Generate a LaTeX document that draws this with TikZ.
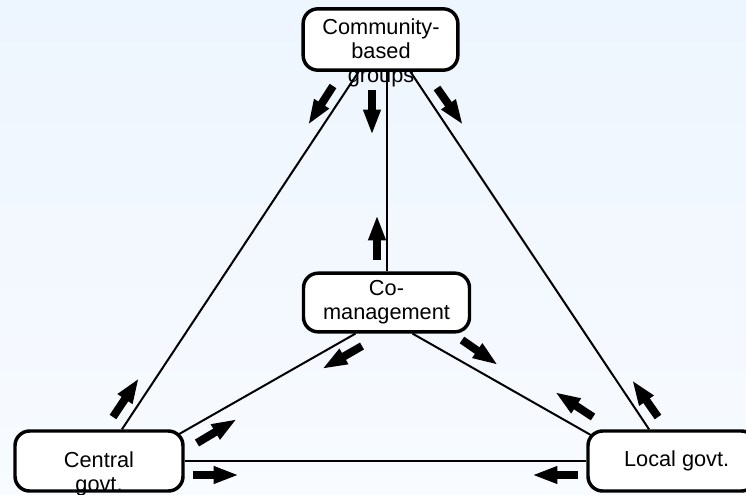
\documentclass[tikz,border=0pt]{standalone}
\usepackage{fontspec}
\setmainfont{Liberation Sans}
\usetikzlibrary{arrows.meta,positioning,calc}
\definecolor{bgtop}{RGB}{237,245,254}
\definecolor{bgbottom}{RGB}{248,251,255}

\begin{document}
\begin{tikzpicture}[
    x=0.75pt, y=-0.75pt,
    box/.style={rectangle, rounded corners=11pt, draw, line width=2.6pt, fill=white, inner sep=0pt},
    lbl/.style={align=center, font=\fontsize{16.3pt}{18pt}\selectfont},
    link/.style={line width=1.5pt},
    flow/.style={line width=6pt, -{Triangle[length=19pt,width=12pt]}}
]
    \useasboundingbox (0,0) rectangle (746,494);
    \fill[top color=bgtop, bottom color=bgbottom] (0,0) rectangle (746,494);

    % the four partners
    \node[box, minimum width=116pt, minimum height=46pt] (cbg) at (380.5,39.5) {};
    \node[box, lbl, minimum width=124.5pt, minimum height=44pt] (comg) at (386.5,302.5) {Co-\\management};
    \node[box, minimum width=126pt, minimum height=45pt] (central) at (99,461) {};
    \node[box, lbl, minimum width=126pt, minimum height=45pt] (local) at (672,461) {\hspace{7pt}Local govt.};

    % links
    \draw[link] ($(cbg.south)+(-22,0)$) -- ($(central.north)+(23,0)$);
    \draw[link] ($(cbg.south)+(30,0)$) -- ($(local.north)+(-23,0)$);
    \draw[link] ($(cbg.south)+(6,0)$) -- (comg.north);
    \draw[link] ($(comg.south)+(-31,0)$) -- ($(central.north east)+(-6,5)$);
    \draw[link] ($(comg.south)+(26,0)$) -- ($(local.north west)+(5,6)$);
    \draw[link] (central.east) -- (local.west);

    % labels that run past their boxes
    \node[lbl] (cbgtext) at (381,53) {Community-\\based\\groups};
    \node[lbl] (centraltext) at (99,474) {Central\\govt.};

    % flows
    \draw[flow] (333,86) -- (308,125);
    \draw[flow] (372,90) -- (372,135);
    \draw[flow] (437,88) -- (463,125);
    \draw[flow] (377,260) -- (377,215);
    \draw[flow] (362,346) -- (322,369);
    \draw[flow] (462,340) -- (498,365);
    \draw[flow] (113,417) -- (139,378);
    \draw[flow] (197,443) -- (237,419);
    \draw[flow] (593,417) -- (555,392);
    \draw[flow] (658,417) -- (632,380);
    \draw[flow] (193,475) -- (239,475);
    \draw[flow] (578,475) -- (532,475);
\end{tikzpicture}
\end{document}
